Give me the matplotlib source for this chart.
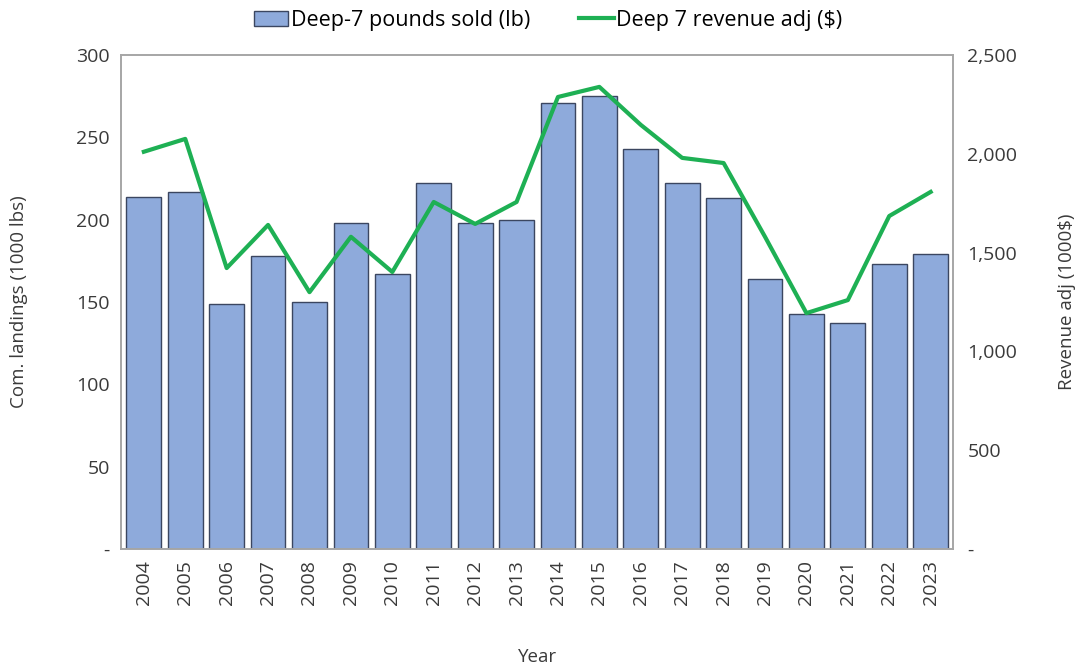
import numpy as np
import matplotlib.pyplot as plt
from matplotlib.ticker import FuncFormatter

plt.rcParams['font.family'] = ['Open Sans', 'DejaVu Sans']

years = [str(y) for y in range(2004, 2024)]
pounds = [214, 217, 149, 178, 150, 198, 167, 222, 198, 200,
          271, 275, 243, 222, 213, 164, 143, 137, 173, 179]
revenue = [2010, 2075, 1422, 1640, 1300, 1580, 1402, 1756, 1645, 1756,
           2287, 2338, 2146, 1979, 1953, 1580, 1194, 1260, 1685, 1807]

fig = plt.figure(figsize=(10.81, 6.69), dpi=100)
ax = fig.add_axes([0.112, 0.179, 0.770, 0.739])
x = np.arange(len(years))
bars = ax.bar(x, pounds, width=0.84, color='#8eaadb', edgecolor='#3b4660',
              linewidth=1.0, label='Deep-7 pounds sold (lb)')
ax.set_xlim(-0.55, len(years) - 0.45)
ax.set_ylim(0, 300)
ax.set_yticks(range(0, 301, 50))
ax.yaxis.set_major_formatter(FuncFormatter(lambda v, p: '-' if v == 0 else f'{v:,.0f}'))
ax.set_xticks(x)
ax.set_xticklabels(years, rotation=90)
ax.set_xlabel('Year', fontsize=13.5, color='#3a3a3a', labelpad=31)
ax.set_ylabel('Com. landings (1000 lbs)', fontsize=13.5, color='#3a3a3a', labelpad=35)

ax2 = ax.twinx()
line, = ax2.plot(x, revenue, color='#1eb054', linewidth=3, label='Deep 7 revenue adj ($)')
ax2.set_ylim(0, 2500)
ax2.set_yticks(range(0, 2501, 500))
ax2.yaxis.set_major_formatter(FuncFormatter(lambda v, p: '-' if v == 0 else f'{v:,.0f}'))
ax2.set_ylabel('Revenue adj (1000$)', fontsize=13.5, color='#3a3a3a', labelpad=29)

ax.tick_params(length=0, labelsize=14, labelcolor='#3a3a3a', pad=8)
ax2.tick_params(length=0, labelsize=14, labelcolor='#3a3a3a', pad=10)
for a in (ax, ax2):
    for s in a.spines.values():
        s.set_color('#a6a6a6')
        s.set_linewidth(1.2)

fig.legend(handles=[bars, line], loc='center', bbox_to_anchor=(0.507, 0.97),
           ncol=2, frameon=False, fontsize=15.5, handlelength=1.6,
           handletextpad=0.1, columnspacing=2.3)

fig.savefig('out.png', dpi=100)
